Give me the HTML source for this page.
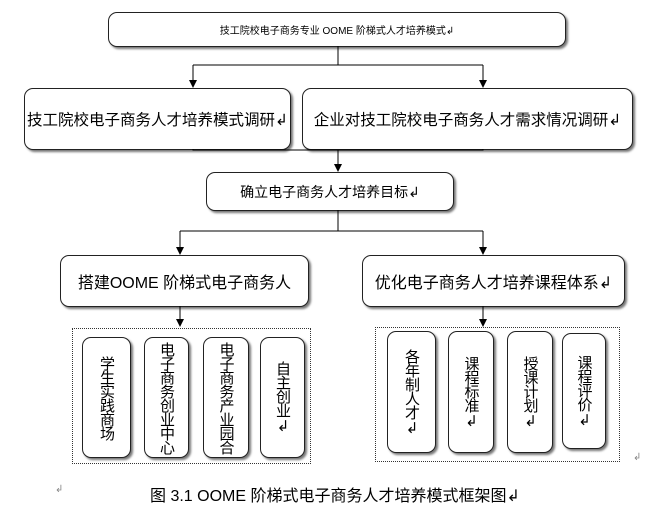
<!DOCTYPE html><html><head><meta charset="utf-8"><style>
body{margin:0;width:648px;height:500px;background:#fff;position:relative;overflow:hidden;font-family:"Liberation Sans","Noto Sans CJK SC",sans-serif;color:#000}
.b{position:absolute;border:1px solid #222;border-radius:9px;background:#fff;box-shadow:2px 2px 2px #777;display:flex;align-items:center;justify-content:center;white-space:nowrap}
.v{position:absolute;border:1px solid #222;border-radius:9px;background:#fff;box-shadow:2px 2px 2px #777;writing-mode:vertical-rl;text-orientation:upright;display:flex;align-items:center;justify-content:center;font-size:15px;line-height:1;letter-spacing:-1px}
.d{position:absolute;border:1px dotted #333}
svg{position:absolute;left:0;top:0;z-index:5}
</style></head><body>
<svg width="648" height="500">
<g stroke="#000" stroke-width="1" fill="none">
<path d="M338 46V65M193 65H483M193 65V82M483 65V82M193 149V150H483V149M338 150V166M338 210V231M180 231H483M180 231V249M483 231V249M180 306V321M483 306V321"/>
</g>
<g fill="#000">
<path d="M189 80H197L193 88z"/><path d="M479 80H487L483 88z"/>
<path d="M334 164H342L338 172z"/>
<path d="M176 247H184L180 255z"/><path d="M479 247H487L483 255z"/>
<path d="M176 319H184L180 327z"/><path d="M479 319H487L483 327z"/>
</g></svg>
<div class="b" style="left:108px;top:12px;width:456px;height:33px;font-size:10px">技工院校电子商务专业 OOME 阶梯式人才培养模式↲</div>
<div class="b" style="left:24px;top:88px;width:265px;height:60px;font-size:15.5px">技工院校电子商务人才培养模式调研↲</div>
<div class="b" style="left:302px;top:88px;width:329px;height:60px;font-size:15.5px">企业对技工院校电子商务人才需求情况调研↲</div>
<div class="b" style="left:206px;top:172px;width:246px;height:37px;font-size:14px">确立电子商务人才培养目标↲</div>
<div class="b" style="left:60px;top:255px;width:247px;height:50px;font-size:16px">搭建OOME 阶梯式电子商务人</div>
<div class="b" style="left:362px;top:255px;width:261px;height:50px;font-size:16px">优化电子商务人才培养课程体系↲</div>
<div class="d" style="left:72px;top:328px;width:237px;height:134px"></div>
<div class="d" style="left:375px;top:327px;width:243px;height:133px"></div>
<div class="v" style="left:82px;top:337px;width:47px;height:119px">学生实践商场</div>
<div class="v" style="left:144px;top:337px;width:43px;height:119px">电子商务创业中心</div>
<div class="v" style="left:203px;top:337px;width:44px;height:119px">电子商务产业园合</div>
<div class="v" style="left:260px;top:337px;width:43px;height:119px">自主创业↲</div>
<div class="v" style="left:387px;top:331px;width:47px;height:120px">各年制人才↲</div>
<div class="v" style="left:448px;top:331px;width:44px;height:120px">课程标准↲</div>
<div class="v" style="left:507px;top:331px;width:44px;height:120px">授课计划↲</div>
<div class="v" style="left:562px;top:333px;width:42px;height:114px">课程评价↲</div>
<div style="position:absolute;left:633px;top:452px;font-size:10px;color:#888">↲</div>
<div style="position:absolute;left:55px;top:484px;font-size:10px;color:#888">↲</div>
<div style="position:absolute;left:150px;top:482px;font-size:16px;white-space:nowrap">图 3.1 OOME 阶梯式电子商务人才培养模式框架图↲</div>
</body></html>
